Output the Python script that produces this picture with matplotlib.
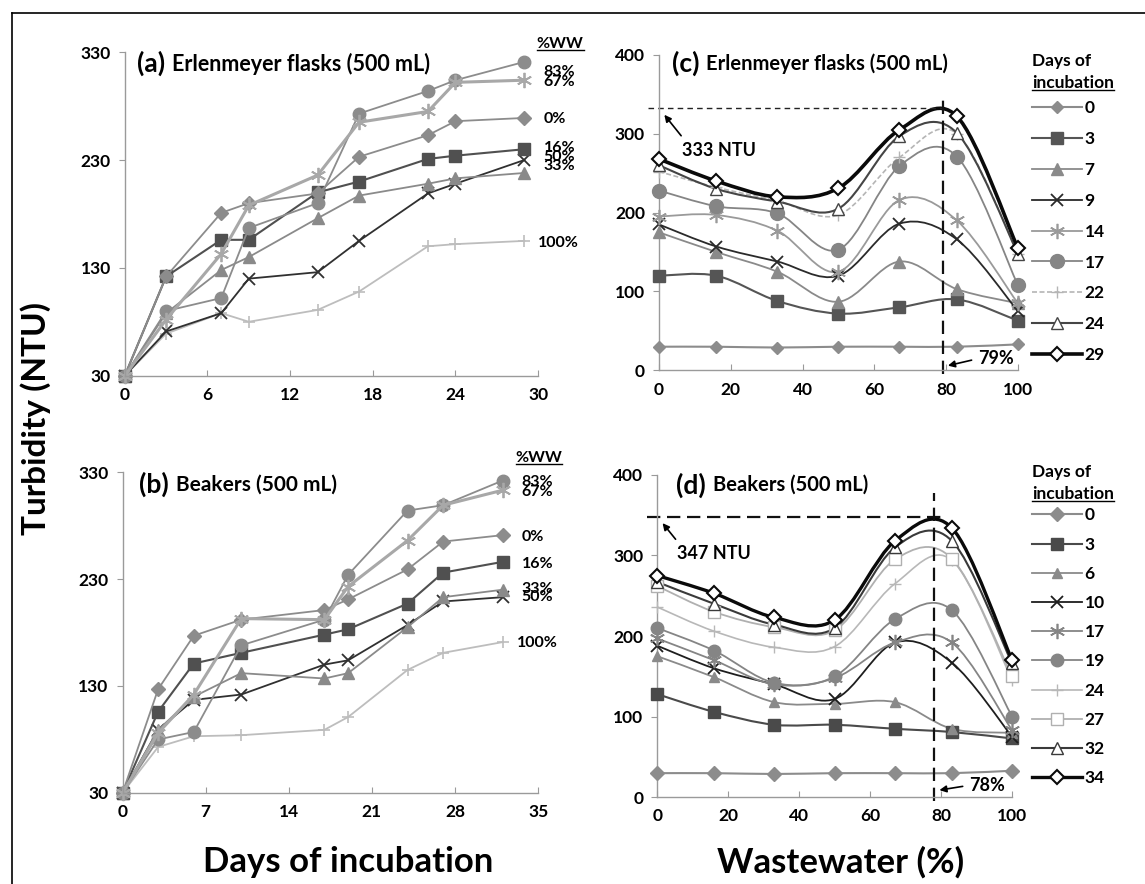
import numpy as np
import matplotlib
matplotlib.use('Agg')
import matplotlib.pyplot as plt
from matplotlib.path import Path
from matplotlib.patches import PathPatch
from matplotlib.lines import Line2D

plt.rcParams['font.family'] = ['Lato', 'DejaVu Sans']
plt.rcParams['font.weight'] = 'bold'

# ---- panel (a): Erlenmeyer flasks, turbidity vs days ----
days_a = [0, 3, 7, 9, 14, 17, 22, 24, 29]
ww_a = {
    '0%':   [30, 122, 181, 190, 199, 233, 253, 266, 269],
    '16%':  [30, 122, 156, 156, 200, 210, 231, 234, 240],
    '33%':  [30, 88, 128, 140, 176, 197, 208, 213, 218],
    '50%':  [30, 71, 88, 120, 126, 155, 199, 208, 230],
    '67%':  [30, 82, 143, 188, 216, 265, 275, 302, 304],
    '83%':  [30, 90, 102, 167, 190, 273, 294, 304, 321],
    '100%': [30, 69, 88, 80, 91, 108, 150, 152, 155],
}
label_y_a = {'83%': 312, '67%': 302, '0%': 268, '16%': 241, '50%': 233, '33%': 224, '100%': 153}

# ---- panel (b): Beakers, turbidity vs days ----
days_b = [0, 3, 6, 10, 17, 19, 24, 27, 32]
ww_b = {
    '0%':   [30, 127, 177, 192, 201, 211, 239, 265, 271],
    '16%':  [30, 106, 151, 161, 178, 183, 207, 236, 246],
    '33%':  [30, 89, 120, 142, 137, 142, 185, 213, 220],
    '50%':  [30, 89, 117, 122, 150, 154, 187, 209, 213],
    '67%':  [30, 86, 122, 193, 192, 223, 266, 299, 313],
    '83%':  [30, 80, 87, 168, 192, 234, 294, 299, 322],
    '100%': [30, 73, 83, 84, 89, 101, 145, 161, 171],
}
label_y_b = {'83%': 321, '67%': 311, '0%': 269, '16%': 244, '33%': 221, '50%': 213, '100%': 170}

# ---- panel (c): Erlenmeyer flasks, turbidity vs wastewater ----
wastewater = [0, 16, 33, 50, 67, 83, 100]
days_c = {
    '0':  [30, 30, 29, 30, 30, 30, 33],
    '3':  [120, 120, 88, 72, 80, 90, 63],
    '7':  [175, 150, 125, 87, 138, 103, 85],
    '9':  [185, 157, 138, 120, 186, 166, 75],
    '14': [195, 197, 177, 125, 216, 190, 85],
    '17': [228, 208, 199, 153, 259, 271, 108],
    '22': [252, 232, 215, 197, 270, 300, 148],
    '24': [260, 230, 214, 205, 297, 301, 148],
    '29': [268, 240, 220, 231, 305, 322, 155],
}
peak_c, peak_c_ww = 333, 79

# ---- panel (d): Beakers, turbidity vs wastewater ----
days_d = {
    '0':  [30, 30, 29, 30, 30, 30, 33],
    '3':  [128, 106, 90, 90, 85, 81, 73],
    '6':  [175, 149, 118, 116, 118, 85, 80],
    '10': [188, 160, 140, 122, 192, 167, 75],
    '17': [197, 170, 140, 148, 192, 192, 83],
    '19': [210, 182, 142, 150, 221, 232, 100],
    '24': [236, 206, 186, 187, 265, 294, 145],
    '27': [262, 230, 211, 207, 295, 296, 150],
    '32': [267, 240, 214, 210, 310, 318, 166],
    '34': [275, 253, 223, 220, 318, 334, 170],
}
peak_d, peak_d_ww = 347, 78

ast = (6, 2, 0)
style_ww = {
    '0%':   dict(color='#8c8c8c', marker='D', ms=7, lw=1.3),
    '16%':  dict(color='#505050', marker='s', ms=9, lw=1.5),
    '33%':  dict(color='#8a8a8a', marker='^', ms=9, lw=1.3),
    '50%':  dict(color='#303030', marker='x', ms=9, lw=1.3, mew=1.3),
    '67%':  dict(color='#a8a8a8', marker=ast, ms=11, lw=2.2, mew=1.3),
    '83%':  dict(color='#8c8c8c', marker='o', ms=9, lw=1.3),
    '100%': dict(color='#bdbdbd', marker='+', ms=9, lw=1.3, mew=1.2),
}
style_c = {
    '0':  dict(color='#8c8c8c', marker='D', ms=6, lw=1.5),
    '3':  dict(color='#555555', marker='s', ms=9, lw=1.5),
    '7':  dict(color='#8a8a8a', marker='^', ms=9, lw=1.3),
    '9':  dict(color='#2a2a2a', marker='x', ms=9, lw=1.3, mew=1.3),
    '14': dict(color='#9a9a9a', marker=ast, ms=11, lw=1.3, mew=1.2),
    '17': dict(color='#858585', marker='o', ms=10, lw=1.3),
    '22': dict(color='#b5b5b5', marker='+', ms=8, lw=1.2, ls=(0, (3, 1.5))),
    '24': dict(color='#454545', marker='^', ms=9, lw=1.5, mfc='white'),
    '29': dict(color='#0a0a0a', marker='D', ms=7, lw=2.6, mfc='white', mew=1.5),
}
style_d = {
    '0':  dict(color='#8c8c8c', marker='D', ms=7, lw=1.5),
    '3':  dict(color='#4a4a4a', marker='s', ms=8, lw=1.5),
    '6':  dict(color='#8a8a8a', marker='^', ms=7, lw=1.3),
    '10': dict(color='#1e1e1e', marker='x', ms=9, lw=1.3, mew=1.3),
    '17': dict(color='#858585', marker=ast, ms=11, lw=1.3, mew=1.2),
    '19': dict(color='#858585', marker='o', ms=9, lw=1.3),
    '24': dict(color='#b8b8b8', marker='+', ms=8, lw=1.2),
    '27': dict(color='#b0b0b0', marker='s', ms=9, lw=1.3, mfc='white'),
    '32': dict(color='#3a3a3a', marker='^', ms=9, lw=1.5, mfc='white'),
    '34': dict(color='#0a0a0a', marker='D', ms=7, lw=2.4, mfc='white', mew=1.5),
}


def smooth_path(x, y):
    # Excel-like smoothed line: cubic Bezier segments through the data points
    verts = [(x[0], y[0])]
    codes = [Path.MOVETO]
    n = len(x)
    for i in range(n - 1):
        xp, yp = (x[i - 1], y[i - 1]) if i > 0 else (x[i], y[i])
        xn, yn = (x[i + 2], y[i + 2]) if i + 2 < n else (x[i + 1], y[i + 1])
        c1 = (x[i] + (x[i + 1] - xp) / 6, y[i] + (y[i + 1] - yp) / 6)
        c2 = (x[i + 1] - (xn - x[i]) / 6, y[i + 1] - (yn - y[i]) / 6)
        verts += [c1, c2, (x[i + 1], y[i + 1])]
        codes += [Path.CURVE4] * 3
    return Path(verts, codes)


def style_axes(ax, xlim, xticks, ylim, yticks):
    ax.set_xlim(*xlim)
    ax.set_ylim(*ylim)
    ax.set_xticks(xticks)
    ax.set_yticks(yticks)
    for s in ['top', 'right']:
        ax.spines[s].set_visible(False)
    for s in ['left', 'bottom']:
        ax.spines[s].set_color('#9a9a9a')
        ax.spines[s].set_linewidth(1.0)
    ax.tick_params(axis='x', direction='in', length=4, color='#9a9a9a', labelsize=12.5, pad=8)
    ax.tick_params(axis='y', direction='out', length=4, color='#9a9a9a', labelsize=12.5, pad=6)
    for t in ax.get_xticklabels() + ax.get_yticklabels():
        t.set_fontweight('bold')
    ax.patch.set_alpha(0)


def panel_title(ax, tag, text, xf, yf, size):
    t = ax.text(xf, yf, tag, transform=ax.transAxes, fontsize=19, va='center', ha='left')
    ax.annotate(text, xy=(1, 0.5), xycoords=t, xytext=(5, 0), textcoords='offset points',
                fontsize=size, va='center', ha='left')


fig = plt.figure(figsize=(11.45, 8.84), dpi=100)
ax_a = fig.add_axes([0.109, 0.575, 0.361, 0.366])
ax_b = fig.add_axes([0.107, 0.103, 0.363, 0.363])
ax_c = fig.add_axes([0.5755, 0.581, 0.3135, 0.357])
ax_d = fig.add_axes([0.574, 0.098, 0.310, 0.365])

underlines = []

# panels a and b
for ax, days, data, ly, lx, xlim, xt in [
        (ax_a, days_a, ww_a, label_y_a, 30.4, (0, 30), range(0, 31, 6)),
        (ax_b, days_b, ww_b, label_y_b, 33.6, (0, 35), range(0, 36, 7))]:
    for name in ['100%', '50%', '33%', '16%', '0%', '83%', '67%']:
        st = dict(style_ww[name])
        ax.plot(days, data[name], color=st.pop('color'), marker=st.pop('marker'),
                markersize=st.pop('ms'), linewidth=st.pop('lw'), clip_on=False,
                markeredgewidth=st.pop('mew', 1.0), **st)
    for name, yv in ly.items():
        ax.text(lx - (0.4 if name == '100%' else 0), yv, name, fontsize=11.5, va='center',
                ha='left', clip_on=False)
    t = ax.text(lx - 0.5, 338 if ax is ax_a else 343, '%WW', fontsize=11.5, va='center', ha='left')
    underlines.append(t)
    style_axes(ax, xlim, list(xt), (30, 330), [30, 130, 230, 330])

panel_title(ax_a, '(a)', 'Erlenmeyer flasks (500 mL)', 0.03, 0.965, 15.5)
panel_title(ax_b, '(b)', 'Beakers (500 mL)', 0.04, 0.962, 15)

# panels c and d
for ax, data, styles in [(ax_c, days_c, style_c), (ax_d, days_d, style_d)]:
    handles = []
    for name, vals in data.items():
        st = dict(styles[name])
        color = st.pop('color')
        lw = st.pop('lw')
        ls = st.pop('ls', '-')
        ax.add_patch(PathPatch(smooth_path(wastewater, vals), fill=False, edgecolor=color,
                               linewidth=lw, linestyle=ls, zorder=2, clip_on=False))
        mk = dict(marker=st.pop('marker'), markersize=st.pop('ms'),
                  markeredgewidth=st.pop('mew', 1.0), markerfacecolor=st.pop('mfc', color),
                  markeredgecolor=color)
        ax.plot(wastewater, vals, linestyle='none', zorder=3, clip_on=False, **mk)
        handles.append(Line2D([], [], color=color, linewidth=lw, linestyle=ls, **mk))
    style_axes(ax, (0, 100), list(range(0, 101, 20)), (0, 400), [0, 100, 200, 300, 400])
    top = 0.887 if ax is ax_c else 0.426
    sp = 0.86 if ax is ax_c else 0.76
    ax.legend(handles, list(data.keys()), loc='upper left', bbox_to_anchor=(0.901, top),
              bbox_transform=fig.transFigure, frameon=False, handlelength=2.9,
              handletextpad=0.15, labelspacing=sp, borderpad=0, borderaxespad=0,
              prop=dict(size=12.5, weight='bold'))
    ty = 0.931 if ax is ax_c else 0.466
    fig.text(0.9015, ty, 'Days of', fontsize=12.5, va='center', ha='left')
    t = fig.text(0.9015, ty - 0.025, 'incubation', fontsize=12.5, va='center', ha='left')
    underlines.append(t)

panel_title(ax_c, '(c)', 'Erlenmeyer flasks (500 mL)', 0.036, 0.972, 14.5)
panel_title(ax_d, '(d)', 'Beakers (500 mL)', 0.054, 0.968, 14.5)

# peak markers
ax_c.plot([-3, peak_c_ww], [peak_c, peak_c], color='#222222', lw=1.0, ls=(0, (4, 3)), clip_on=False)
ax_c.plot([peak_c_ww, peak_c_ww], [-4, 343], color='#111111', lw=1.6, ls=(0, (6, 3)), clip_on=False)
ax_c.annotate('%d NTU' % peak_c, xy=(1.5, 324), xytext=(6.5, 279), fontsize=13, va='center',
              ha='left', arrowprops=dict(arrowstyle='-|>', color='k', lw=1.2, mutation_scale=10,
                                         relpos=(0.05, 1.0), shrinkA=3, shrinkB=0))
ax_c.annotate('%d%%' % peak_c_ww, xy=(80.5, 6), xytext=(89, 15), fontsize=13, va='center',
              ha='left', arrowprops=dict(arrowstyle='-|>', color='k', lw=1.2, mutation_scale=10,
                                         relpos=(0.0, 0.5), shrinkA=3, shrinkB=0))

ax_d.plot([-3, 80], [peak_d, peak_d], color='#111111', lw=1.6, ls=(0, (6, 3)), clip_on=False)
ax_d.plot([peak_d_ww, peak_d_ww], [-5, 377], color='#111111', lw=1.6, ls=(0, (6, 3)), clip_on=False)
ax_d.annotate('%d NTU' % peak_d, xy=(1.5, 340), xytext=(5.5, 302), fontsize=13, va='center',
              ha='left', arrowprops=dict(arrowstyle='-|>', color='k', lw=1.2, mutation_scale=10,
                                         relpos=(0.05, 1.0), shrinkA=3, shrinkB=0))
ax_d.annotate('%d%%' % peak_d_ww, xy=(79.5, 9), xytext=(88, 15), fontsize=13, va='center',
              ha='left', arrowprops=dict(arrowstyle='-|>', color='k', lw=1.2, mutation_scale=10,
                                         relpos=(0.0, 0.5), shrinkA=3, shrinkB=0))

# shared axis labels
fig.text(0.031, 0.527, 'Turbidity (NTU)', rotation=90, fontsize=24, va='center', ha='center')
fig.text(0.304, 0.025, 'Days of incubation', fontsize=25, va='center', ha='center')
fig.text(0.734, 0.025, 'Wastewater (%)', fontsize=25, va='center', ha='center')

# frame (left and top edges)
fig.add_artist(Line2D([0.0105, 0.0105], [0.0, 0.9853], color='k', lw=1.2))
fig.add_artist(Line2D([0.0105, 1.0], [0.9853, 0.9853], color='k', lw=1.2))

# underline the small headers
fig.canvas.draw()
r = fig.canvas.get_renderer()
inv = fig.transFigure.inverted()
for t in underlines:
    bb = t.get_window_extent(r)
    (x0, y0), (x1, _) = inv.transform([(bb.x0, bb.y0), (bb.x1, bb.y1)])
    fig.add_artist(Line2D([x0, x1], [y0 + 0.001, y0 + 0.001], color='k', lw=1.0))

fig.savefig('out.png', dpi=100)
